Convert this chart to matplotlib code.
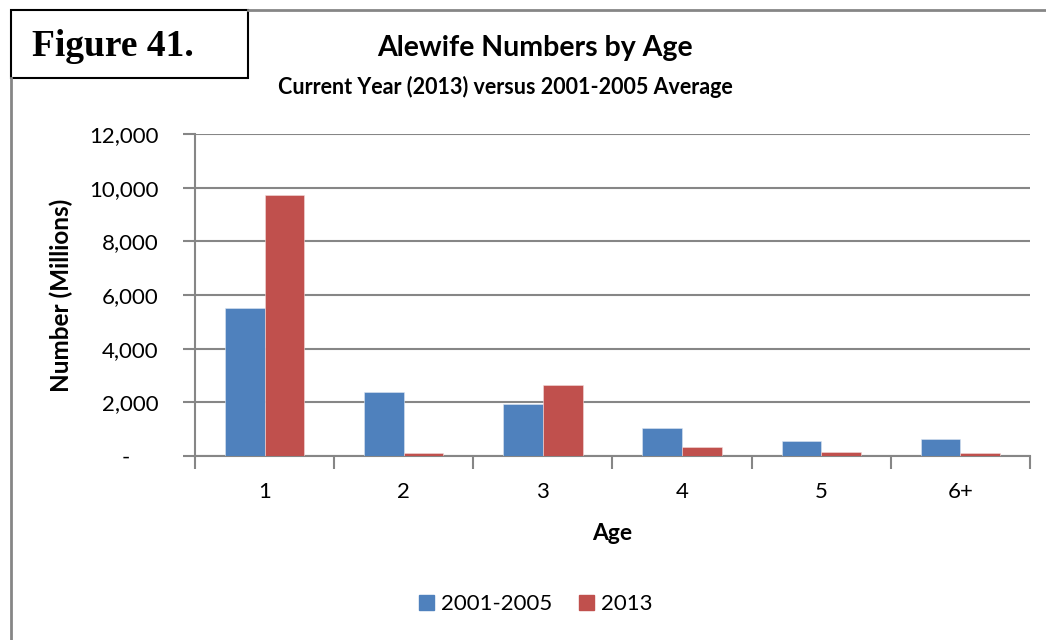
import matplotlib.pyplot as plt
from matplotlib.patches import Rectangle
from matplotlib.lines import Line2D
from matplotlib.ticker import FuncFormatter, FixedLocator

# Chart data
ages = ["1", "2", "3", "4", "5", "6+"]
avg_2001_2005 = [5500, 2370, 1940, 1040, 545, 645]
year_2013 = [9740, 100, 2660, 320, 160, 100]
series_names = ["2001-2005", "2013"]

blue = "#4F81BD"
red = "#C0504D"
grid_gray = "#868686"

plt.rcParams["font.family"] = ["Lato", "DejaVu Sans"]

fig = plt.figure(figsize=(10.46, 6.4), dpi=100)
ax = fig.add_axes([0.1864, 0.2875, 0.7983, 0.5031])

x = list(range(len(ages)))
w = 0.285
x_blue = []
x_red = []
for i in x:
    x_blue.append(i - w / 2)
    x_red.append(i + w / 2)

ax.bar(x_blue, avg_2001_2005, width=w, color=blue, edgecolor="#dce6f2", linewidth=0.4, zorder=3)
ax.bar(x_red, year_2013, width=w, color=red, edgecolor="#f2dcdb", linewidth=0.4, zorder=3)

ax.set_xlim(-0.5, len(ages) - 0.5)
ax.set_ylim(0, 12000)
ax.set_yticks([0, 2000, 4000, 6000, 8000, 10000, 12000])


def fmt(v, pos):
    if v == 0:
        return "-     "
    return "{:,.0f}".format(v)


ax.yaxis.set_major_formatter(FuncFormatter(fmt))
ax.yaxis.grid(True, color=grid_gray, linewidth=1.5, zorder=0)

ax.set_xticks(x)
ax.set_xticklabels(ages)
bounds = []
for i in range(len(ages) + 1):
    bounds.append(i - 0.5)
ax.xaxis.set_minor_locator(FixedLocator(bounds))
ax.tick_params(axis="x", which="major", length=0, pad=19, labelsize=16)
ax.tick_params(axis="x", which="minor", length=9, width=1.5, color=grid_gray, direction="out")
ax.tick_params(axis="y", which="major", length=9, width=1.5, color=grid_gray, labelsize=16, pad=17)

for side in ["top", "right"]:
    ax.spines[side].set_visible(False)
ax.spines["left"].set_color(grid_gray)
ax.spines["left"].set_linewidth(1.5)
ax.spines["bottom"].set_color(grid_gray)
ax.spines["bottom"].set_linewidth(1.5)

ax.set_xlabel("Age", fontsize=16.5, fontweight="bold", labelpad=15)
ax.set_ylabel("Number (Millions)", fontsize=17.5, fontweight="bold", labelpad=12)

# Titles
fig.text(0.5115, 0.925, "Alewife Numbers by Age", ha="center", va="center",
         fontsize=20.5, fontweight="bold")
fig.text(0.4835, 0.864, "Current Year (2013) versus 2001-2005 Average", ha="center",
         va="center", fontsize=15.5, fontweight="bold")

# Legend
handles = [Rectangle((0, 0), 1, 1, color=blue), Rectangle((0, 0), 1, 1, color=red)]
fig.legend(handles, series_names, loc="center", bbox_to_anchor=(0.512, 0.056), ncol=2,
           frameon=False, fontsize=16, handlelength=0.7, handleheight=0.7,
           handletextpad=0.3, columnspacing=1.2)

# Outer frame (top and left only) and the "Figure 41." box
fig.add_artist(Line2D([248 / 1046, 1.0], [1 - 9.5 / 640, 1 - 9.5 / 640], color=grid_gray,
                      linewidth=2, transform=fig.transFigure))
fig.add_artist(Line2D([10.5 / 1046, 10.5 / 1046], [1 - 78 / 640, 0.0], color=grid_gray,
                      linewidth=2, transform=fig.transFigure))
fig.add_artist(Rectangle((11 / 1046, 1 - 78 / 640), 237 / 1046, 68 / 640, fill=False,
                         edgecolor="black", linewidth=1.5, transform=fig.transFigure))
fig.text(32 / 1046, 1 - 47 / 640, "Figure 41.", ha="left", va="center", fontsize=27,
         fontweight="bold", family=["Liberation Serif", "DejaVu Serif"])

fig.savefig("out.png", dpi=100)
